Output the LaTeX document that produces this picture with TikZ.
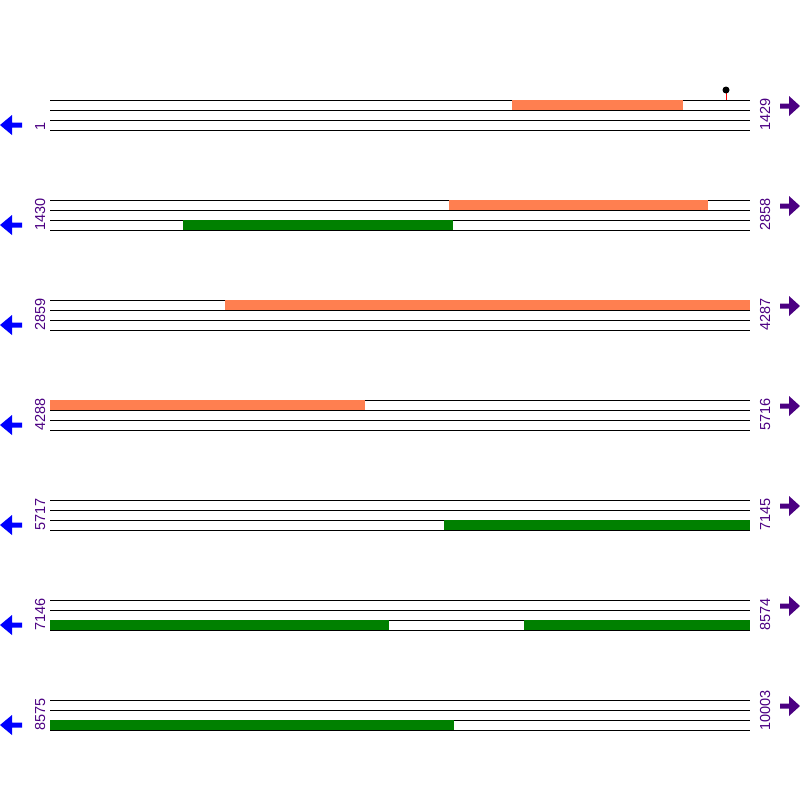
\documentclass[tikz,border=0pt]{standalone}
\usepackage{fontspec}
\setmainfont{Liberation Sans}
\definecolor{coral}{RGB}{255,127,80}
\definecolor{dgreen}{RGB}{0,128,0}
\definecolor{indig}{RGB}{75,0,130}
\begin{document}
\begin{tikzpicture}[x=1pt,y=-1pt,
  trk/.style={black,line width=1pt},
  fwd/.style={fill=coral},
  rev/.style={fill=dgreen},
  lbl/.style={text=indig,rotate=90,anchor=base west,inner sep=0pt,font=\fontsize{14.5}{14.5}\selectfont},
  larr/.style={fill=blue},
  rarr/.style={fill=indig}]
\useasboundingbox (0,0) rectangle (800,800);
\def\rowlabels{{"1","1429"},{"1430","2858"},{"2859","4287"},{"4288","5716"},{"5717","7145"},{"7146","8574"},{"8575","10003"}}
\foreach \i/\a/\b in {0/1/1429,1/1430/2858,2/2859/4287,3/4288/5716,4/5717/7145,5/7146/8574,6/8575/10003}{
  \pgfmathsetmacro{\yy}{100+100*\i}
  \foreach \k in {0,10,20,30}{\draw[trk] (50,\yy+\k) -- (750,\yy+\k);}
  \node[lbl] at (45,\yy+31) {\a};
  \node[lbl] at (770,\yy+31) {\b};
  \fill[larr] (0,\yy+25) -- (12,\yy+15) -- (12,\yy+22.5) -- (22,\yy+22.5) -- (22,\yy+27.5) -- (12,\yy+27.5) -- (12,\yy+35) -- cycle;
  \fill[rarr] (800,\yy+6) -- (789,\yy-4) -- (789,\yy+3.5) -- (780,\yy+3.5) -- (780,\yy+8.5) -- (789,\yy+8.5) -- (789,\yy+16) -- cycle;
}
% row 1
\fill[fwd] (512,100) rectangle (683,110);
\draw[red,line width=1pt] (726,91) -- (726,100);
\fill[black] (726,90) circle (3.5);
% row 2
\fill[fwd] (449,200) rectangle (708,210);
\fill[rev] (183,220) rectangle (453,230);
% row 3
\fill[fwd] (225,300) rectangle (750,310);
% row 4
\fill[fwd] (50,400) rectangle (365,410);
% row 5
\fill[rev] (444,520) rectangle (750,530);
% row 6
\fill[rev] (50,620) rectangle (389,630);
\fill[rev] (524,620) rectangle (750,630);
% row 7
\fill[rev] (50,720) rectangle (454,730);
\end{tikzpicture}
\end{document}
